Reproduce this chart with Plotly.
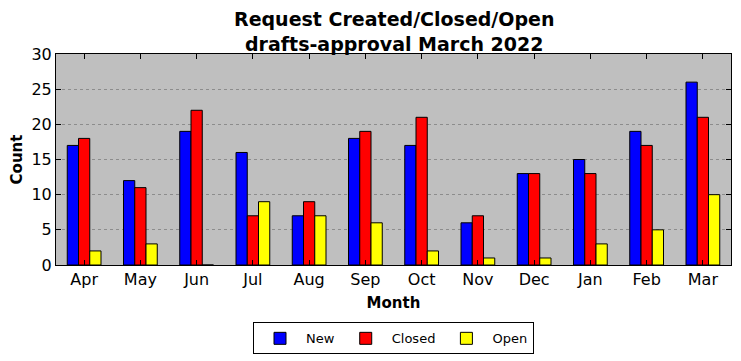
import plotly.graph_objects as go

months = ["Apr", "May", "Jun", "Jul", "Aug", "Sep", "Oct", "Nov", "Dec", "Jan", "Feb", "Mar"]
new_vals = [17, 12, 19, 16, 7, 18, 17, 6, 13, 15, 19, 26]
closed_vals = [18, 11, 22, 7, 9, 19, 21, 7, 13, 13, 17, 21]
open_vals = [2, 3, 0, 9, 7, 6, 2, 1, 1, 3, 5, 10]

series = [("New", new_vals, "#0000ff"), ("Closed", closed_vals, "#ff0000"), ("Open", open_vals, "#ffff00")]

fig = go.Figure()
for name, vals, col in series:
    fig.add_trace(go.Bar(x=months, y=vals, name=name, marker=dict(color=col, line=dict(color="black", width=1))))

font = "DejaVu Sans"
# page body has a default 8px margin, so the figure is sized to fit the window
fig.update_layout(
    width=733, height=353,
    margin=dict(l=48, r=10, t=46, b=96, autoexpand=False),
    paper_bgcolor="white", plot_bgcolor="#bfbfbf",
    font=dict(family=font, color="black"),
    barmode="group", bargap=0.4, bargroupgap=0,
    showlegend=True,
    legend=dict(orientation="h", x=0.5, xanchor="center", y=-0.272, yanchor="top",
                bordercolor="black", borderwidth=1, font=dict(size=13, family=font),
                traceorder="normal", itemwidth=42),
)
fig.add_annotation(text="<b>Request Created/Closed/Open<br>drafts-approval March 2022</b>",
                   xref="paper", yref="paper", x=0.5, y=1.0, xanchor="center", yanchor="bottom",
                   yshift=-3, showarrow=False, font=dict(size=19, family=font))
fig.update_xaxes(
    title=dict(text="<b>Month</b>", font=dict(size=15), standoff=9),
    showline=True, linecolor="black", linewidth=1, mirror="ticks",
    ticks="inside", ticklen=5, tickcolor="black", automargin=False,
    tickfont=dict(size=16), range=[-0.5, 11.5], showgrid=False,
)
fig.update_yaxes(
    title=dict(text="<b>Count</b>", font=dict(size=15), standoff=6),
    showline=True, linecolor="black", linewidth=1, mirror="ticks",
    ticks="inside", ticklen=5, tickcolor="black", automargin=False,
    tickfont=dict(size=16), range=[0, 30], dtick=5,
    showgrid=True, gridcolor="#8c8c8c", griddash="dot", gridwidth=1, zeroline=False,
)
fig.write_html("out.html")
